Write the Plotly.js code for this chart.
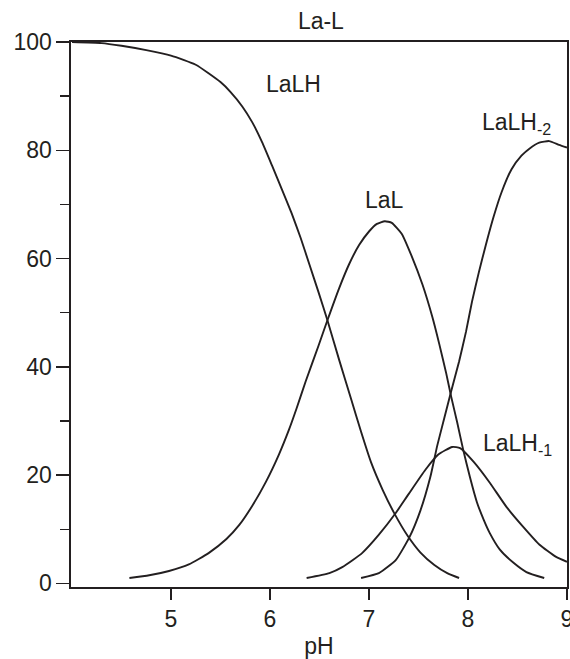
<!DOCTYPE html>
<html>
<head>
<meta charset="utf-8">
<script src="https://cdn.plot.ly/plotly-3.0.1.min.js"></script>
<style>html,body{margin:0;padding:0;background:#fff;}#chart{width:570px;height:659px;}</style>
</head>
<body>
<div id="chart"></div>
<script>
// LaLH
const laLH_pH = [4.00,4.30,4.50,4.75,5.00,5.25,5.50,5.60,5.72,5.82,5.92,6.02,6.12,6.22,6.31,6.40,6.49,6.58,6.70,6.82,6.92,7.02,7.14,7.26,7.39,7.52,7.66,7.79,7.91];
const laLH    = [100,99.8,99.3,98.5,97.5,95.8,92.6,90.8,88.1,85.2,81.5,77.2,72.8,68.3,63.8,58.8,53.8,48.6,41.2,34.0,28.0,22.4,17.2,12.8,8.8,5.7,3.4,1.9,1.0];
// LaL
const laL_pH = [4.58,4.78,4.98,5.18,5.38,5.56,5.69,5.82,5.96,6.09,6.19,6.27,6.36,6.49,6.58,6.70,6.80,6.90,7.00,7.08,7.16,7.23,7.33,7.43,7.54,7.64,7.71,7.78,7.83,7.89,7.95,8.02,8.09,8.16,8.22,8.32,8.46,8.59,8.77];
const laL    = [1.0,1.5,2.3,3.5,5.6,8.2,10.8,14.3,18.8,23.8,28.3,32.4,37.3,43.9,48.6,54.6,59.0,62.5,65.0,66.4,66.9,66.6,64.6,60.5,55.2,49.2,44.2,38.8,34.5,29.8,24.8,19.6,15.0,11.7,9.3,6.3,3.8,2.1,1.0];
// LaLH-1
const laLHm1_pH = [6.37,6.60,6.73,6.93,7.10,7.27,7.40,7.57,7.70,7.84,7.92,8.06,8.22,8.39,8.56,8.72,8.89,9.00];
const laLHm1    = [1.0,1.9,3.0,5.6,9.0,13.0,16.5,21.0,23.8,25.2,25.0,22.4,18.6,14.1,10.4,7.2,4.9,4.0];
// LaLH-2
const laLHm2_pH = [6.92,7.10,7.27,7.41,7.52,7.62,7.69,7.76,7.83,7.91,7.98,8.04,8.11,8.18,8.26,8.34,8.44,8.54,8.62,8.72,8.82,8.92,9.00];
const laLHm2    = [1.0,1.9,4.3,8.6,13.5,19.7,25.5,30.5,35.5,41.0,46.5,52.0,57.5,62.5,67.8,72.3,76.5,79.0,80.3,81.4,81.7,81.0,80.5];

const yTicks = [0,20,40,60,80,100];
const yMinorTicks = [10,30,50,70,90];
const xTicks = [5,6,7,8,9];

const ink = '#231f20';
const fontFam = '"Liberation Sans", Arial, sans-serif';
const fs = 23;

function tr(x, y) {
  return {x: x, y: y, type: 'scatter', mode: 'lines',
    line: {color: ink, width: 1.9, shape: 'spline', smoothing: 0.5},
    hoverinfo: 'skip', showlegend: false};
}

const data = [tr(laLH_pH, laLH), tr(laL_pH, laL), tr(laLHm1_pH, laLHm1), tr(laLHm2_pH, laLHm2)];

const layout = {
  width: 570, height: 659,
  margin: {l: 71, r: 3, t: 42, b: 72, pad: 0},
  paper_bgcolor: '#fff', plot_bgcolor: '#fff',
  font: {family: fontFam, size: fs, color: ink},
  showlegend: false,
  title: {text: 'La-L', x: 0.563, xanchor: 'center', y: 0.968, yanchor: 'middle',
    font: {family: fontFam, size: fs, color: ink}},
  xaxis: {
    range: [3.99, 9], tickvals: xTicks, ticktext: xTicks.map(String),
    ticks: 'outside', ticklen: 11, tickwidth: 1.5, tickcolor: ink,
    ticklabeloverflow: 'allow',
    showline: true, linecolor: ink, linewidth: 1.6, mirror: true,
    showgrid: false, zeroline: false,
    tickfont: {family: fontFam, size: fs, color: ink},
    title: {text: 'pH', standoff: 6, font: {family: fontFam, size: fs, color: ink}}
  },
  yaxis: {
    range: [-0.66, 100], tickvals: yTicks, ticktext: yTicks.map(String),
    ticks: 'outside', ticklen: 13, tickwidth: 1.5, tickcolor: ink,
    minor: {tickvals: yMinorTicks, ticks: 'outside', ticklen: 9, tickwidth: 1.5, tickcolor: ink, showgrid: false},
    showline: true, linecolor: ink, linewidth: 1.6, mirror: true,
    showgrid: false, zeroline: false,
    tickfont: {family: fontFam, size: fs, color: ink}
  },
  annotations: [
    {x: 6.24, y: 92.2, xref: 'x', yref: 'y', text: 'LaLH', showarrow: false, font: {family: fontFam, size: fs, color: ink}},
    {x: 7.16, y: 70.8, xref: 'x', yref: 'y', text: 'LaL', showarrow: false, font: {family: fontFam, size: fs, color: ink}},
    {x: 8.49, y: 85.0, xref: 'x', yref: 'y', text: 'LaLH<sub>-2</sub>', showarrow: false, font: {family: fontFam, size: fs, color: ink}},
    {x: 8.50, y: 25.7, xref: 'x', yref: 'y', text: 'LaLH<sub>-1</sub>', showarrow: false, font: {family: fontFam, size: fs, color: ink}}
  ]
};

Plotly.newPlot('chart', data, layout, {staticPlot: true, displayModeBar: false});
</script>
</body>
</html>
